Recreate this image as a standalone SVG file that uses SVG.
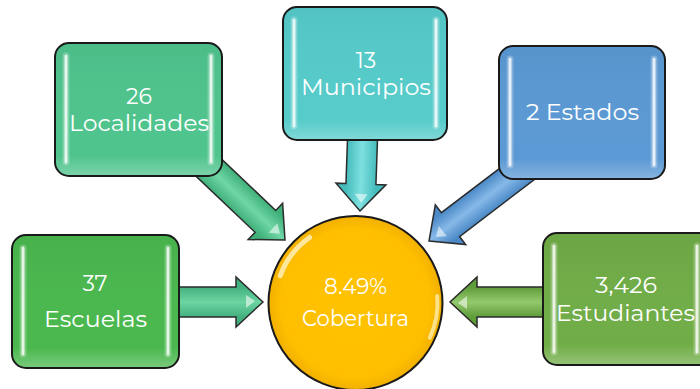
<svg xmlns="http://www.w3.org/2000/svg" xmlns:xlink="http://www.w3.org/1999/xlink" width="700" height="389" viewBox="0 0 700 389">
<style>
.box{stroke:#1a1a1a;stroke-width:2}
.shine{fill:url(#boxShine)}
.bar{stroke:#ffffff;stroke-linecap:round;fill:none}
.bar1{stroke-width:7;stroke-opacity:.25}
.bar2{stroke-width:3;stroke-opacity:.8}
.lbl{fill:#ffffff;font-family:Montserrat,"Open Sans","Noto Sans",sans-serif;font-size:22px;text-anchor:middle}
.arr{stroke:#2b2b2b;stroke-width:1.5;stroke-linejoin:miter}
.glint{fill:#ffffff;fill-opacity:.55;stroke:none}
</style>
<defs>
<linearGradient id="boxShine" x1="0" y1="0" x2="0" y2="1">
<stop offset="0" stop-color="#000" stop-opacity=".04"/>
<stop offset=".85" stop-color="#fff" stop-opacity="0"/>
<stop offset="1" stop-color="#fff" stop-opacity=".25"/>
</linearGradient>
<linearGradient id="gLoc" x1="0" y1="0" x2="0" y2="1"><stop offset=".2" stop-color="#3fb07a"/><stop offset=".5" stop-color="#6fd6a6"/><stop offset=".8" stop-color="#3fb07a"/></linearGradient>
<linearGradient id="gMun" x1="0" y1="0" x2="0" y2="1"><stop offset=".2" stop-color="#45bcbc"/><stop offset=".5" stop-color="#7ee0df"/><stop offset=".8" stop-color="#45bcbc"/></linearGradient>
<linearGradient id="gEst" x1="0" y1="0" x2="0" y2="1"><stop offset=".2" stop-color="#4a88c6"/><stop offset=".5" stop-color="#86b9e8"/><stop offset=".8" stop-color="#4a88c6"/></linearGradient>
<linearGradient id="gEsc" x1="0" y1="0" x2="0" y2="1"><stop offset=".2" stop-color="#42b07e"/><stop offset=".5" stop-color="#6cd5a2"/><stop offset=".8" stop-color="#42b07e"/></linearGradient>
<linearGradient id="gStu" x1="0" y1="0" x2="0" y2="1"><stop offset=".2" stop-color="#5f9c3a"/><stop offset=".5" stop-color="#93c96c"/><stop offset=".8" stop-color="#5f9c3a"/></linearGradient>
<radialGradient id="gCirc" cx=".5" cy=".5" r=".5">
<stop offset="0" stop-color="#ffc200"/><stop offset=".85" stop-color="#ffbf00"/><stop offset="1" stop-color="#f2b000"/>
</radialGradient>
<g id="arrow">
<path class="arr" d="M0 0 L-27 -25 L-27 -15 L-130 -15 L-130 15 L-27 15 L-27 25 Z"/>
<path class="glint" d="M-8 -1 L-17 -7 L-17 6 Z"/>
</g>
</defs>

<g id="connectors">
<use xlink:href="#arrow" href="#arrow" fill="url(#gLoc)" transform="translate(285,240) rotate(43.5)"/>
<use xlink:href="#arrow" href="#arrow" fill="url(#gMun)" transform="translate(360,211) rotate(92)"/>
<use xlink:href="#arrow" href="#arrow" fill="url(#gEst)" transform="translate(429,241) rotate(142.7)"/>
<use xlink:href="#arrow" href="#arrow" fill="url(#gEsc)" transform="translate(263,302)"/>
<use xlink:href="#arrow" href="#arrow" fill="url(#gStu)" transform="translate(450,302) rotate(180)"/>
</g>

<g id="localidades">
<rect class="box" x="55" y="43" width="167" height="133" rx="14" fill="#4fc48d"/>
<rect class="shine" x="56" y="44" width="165" height="131" rx="13"/>
<path class="bar bar1" d="M66 56 V162 M211 56 V162"/>
<path class="bar bar2" d="M66 56 V162 M211 56 V162"/>
<text class="lbl" x="139" y="104">26</text>
<text class="lbl" x="139" y="131" textLength="140" lengthAdjust="spacingAndGlyphs">Localidades</text>
</g>

<g id="municipios">
<rect class="box" x="283" y="7" width="164" height="133" rx="14" fill="#55cbca"/>
<rect class="shine" x="284" y="8" width="162" height="131" rx="13"/>
<path class="bar bar1" d="M294 20 V126 M436 20 V126"/>
<path class="bar bar2" d="M294 20 V126 M436 20 V126"/>
<text class="lbl" x="366" y="68">13</text>
<text class="lbl" x="366" y="95" textLength="130" lengthAdjust="spacingAndGlyphs">Municipios</text>
</g>

<g id="estados">
<rect class="box" x="499" y="46" width="166" height="133" rx="14" fill="#5b99d4"/>
<rect class="shine" x="500" y="47" width="164" height="131" rx="13"/>
<path class="bar bar1" d="M510 59 V165 M654 59 V165"/>
<path class="bar bar2" d="M510 59 V165 M654 59 V165"/>
<text class="lbl" x="582.5" y="120" textLength="113" lengthAdjust="spacingAndGlyphs">2 Estados</text>
</g>

<g id="escuelas">
<rect class="box" x="12" y="235" width="167" height="133" rx="14" fill="#4ab84e"/>
<rect class="shine" x="13" y="236" width="165" height="131" rx="13"/>
<path class="bar bar1" d="M23 248 V354 M168 248 V354"/>
<path class="bar bar2" d="M23 248 V354 M168 248 V354"/>
<text class="lbl" x="95" y="291">37</text>
<text class="lbl" x="95.5" y="327" textLength="103" lengthAdjust="spacingAndGlyphs">Escuelas</text>
</g>

<g id="estudiantes">
<rect class="box" x="543" y="233" width="170" height="132" rx="14" fill="#70ad47"/>
<rect class="shine" x="544" y="234" width="168" height="130" rx="13"/>
<path class="bar bar1" d="M554 246 V352 M697 246 V352"/>
<path class="bar bar2" d="M554 246 V352 M697 246 V352"/>
<text class="lbl" x="626" y="293" textLength="62" lengthAdjust="spacingAndGlyphs">3,426</text>
<text class="lbl" x="625.5" y="321" textLength="139" lengthAdjust="spacingAndGlyphs">Estudiantes</text>
</g>

<g id="cobertura">
<circle cx="355.5" cy="303" r="87" fill="url(#gCirc)" stroke="#1a1a1a" stroke-width="2"/>
<path d="M280.3 275.6 A80 80 0 0 1 309.6 237.5" fill="none" stroke="#fff3c0" stroke-width="5" stroke-linecap="round" stroke-opacity=".8"/>
<path d="M437.2 295.9 A82 82 0 0 1 429.8 337.7" fill="none" stroke="#fff3c0" stroke-width="4" stroke-linecap="round" stroke-opacity=".7"/>
<text class="lbl" x="355.5" y="294" textLength="63" lengthAdjust="spacingAndGlyphs">8.49%</text>
<text class="lbl" x="355.5" y="326" textLength="107" lengthAdjust="spacingAndGlyphs">Cobertura</text>
</g>
</svg>
